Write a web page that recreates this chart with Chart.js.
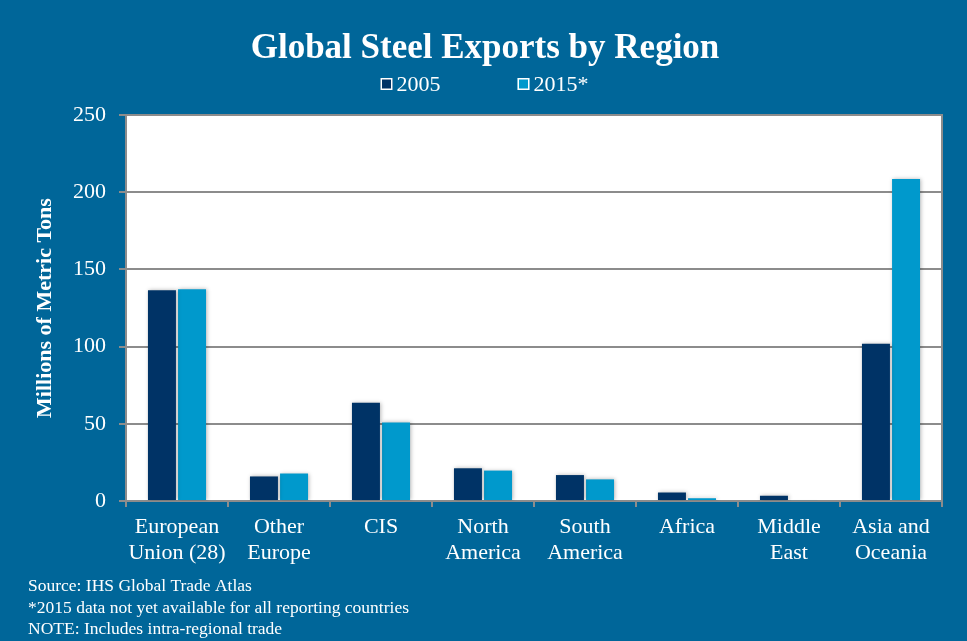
<!DOCTYPE html>
<html>
<head>
<meta charset="utf-8">
<title>Global Steel Exports by Region</title>
<script src="https://cdn.jsdelivr.net/npm/chart.js@4.4.1/dist/chart.umd.min.js"></script>
<style>
  html, body { margin: 0; padding: 0; background: #006699; }
  #wrap { width: 967px; height: 641px; }
  canvas { display: block; }
</style>
</head>
<body>
<div id="wrap"><canvas id="chart" width="967" height="641"></canvas></div>
<script>
// Regions (multi-line labels) and exports in millions of metric tons
const regions = [
  ["European", "Union (28)"],
  ["Other", "Europe"],
  "CIS",
  ["North", "America"],
  ["South", "America"],
  "Africa",
  ["Middle", "East"],
  ["Asia and", "Oceania"]
];
const exports2005 = [136.5, 15.9, 63.7, 21.2, 16.8, 5.5, 3.4, 101.9];
const exports2015 = [137.2, 17.8, 50.9, 19.7, 14.0, 1.8, 0.6, 208.5];
const seriesLabels = ["2005", "2015*"];
const yTicks = [0, 50, 100, 150, 200, 250];
const footnotes = [
  "Source: IHS Global Trade Atlas",
  "*2015 data not yet available for all reporting countries",
  "NOTE: Includes intra-regional trade"
];

const BG = "#006699";
const GRID = "#8c8c8c";
const SERIF = "'Liberation Serif', 'Times New Roman', Times, serif";

Chart.defaults.font.family = SERIF;
Chart.defaults.color = "#ffffff";

// White plot background and right-hand frame line
const plotFrame = {
  id: "plotFrame",
  beforeDraw(chart) {
    const { ctx, chartArea: a } = chart;
    ctx.save();
    ctx.fillStyle = BG;
    ctx.fillRect(0, 0, chart.width, chart.height);
    ctx.fillStyle = "#ffffff";
    ctx.fillRect(a.left, a.top, a.right - a.left, a.bottom - a.top);
    ctx.restore();
  },
  afterDraw(chart) {
    const { ctx, chartArea: a } = chart;
    ctx.save();
    ctx.strokeStyle = GRID;
    ctx.lineWidth = 2;
    ctx.beginPath();
    ctx.moveTo(a.right, a.top - 1);
    ctx.lineTo(a.right, a.bottom);
    ctx.stroke();
    ctx.restore();
  }
};

// Soft shadow around the bars
const barShadow = {
  id: "barShadow",
  beforeDatasetsDraw(chart) {
    const ctx = chart.ctx;
    ctx.save();
    ctx.shadowColor = "rgba(0,0,0,0.28)";
    ctx.shadowBlur = 4;
    ctx.shadowOffsetX = 1;
    ctx.shadowOffsetY = 0;
  },
  afterDatasetsDraw(chart) {
    chart.ctx.restore();
  }
};

// Legend row under the title: outlined square swatches with widely spaced items
const legendRow = {
  id: "legendRow",
  afterDraw(chart) {
    const ctx = chart.ctx;
    const box = 12, gap = 4, itemGap = 77, y = 84;
    ctx.save();
    ctx.font = "22px " + SERIF;
    ctx.textBaseline = "middle";
    const items = chart.data.datasets.map(ds => ({
      text: ds.label, color: ds.backgroundColor, w: ctx.measureText(ds.label).width
    }));
    let total = items.reduce((s, it) => s + box + gap + it.w, 0) + itemGap * (items.length - 1);
    let x = (chart.width - total) / 2 + 1;
    items.forEach(it => {
      ctx.fillStyle = it.color;
      ctx.fillRect(x, y - box / 2, box, box);
      ctx.strokeStyle = "#ffffff";
      ctx.lineWidth = 1.5;
      ctx.strokeRect(x + 0.75, y - box / 2 + 0.75, box - 1.5, box - 1.5);
      ctx.fillStyle = "#ffffff";
      ctx.textAlign = "left";
      ctx.fillText(it.text, x + box + gap, y + 1);
      x += box + gap + it.w + itemGap;
    });
    ctx.restore();
  }
};

// Source notes in the lower-left corner
const notes = {
  id: "notes",
  afterDraw(chart) {
    const ctx = chart.ctx;
    ctx.save();
    ctx.font = "17.5px " + SERIF;
    ctx.fillStyle = "#ffffff";
    ctx.textAlign = "left";
    ctx.textBaseline = "alphabetic";
    footnotes.forEach((line, i) => ctx.fillText(line, 28, 591 + i * 21.5));
    ctx.restore();
  }
};

new Chart(document.getElementById("chart"), {
  type: "bar",
  data: {
    labels: regions,
    datasets: [
      {
        label: seriesLabels[0],
        data: exports2005,
        backgroundColor: "#003366",
        borderColor: "#ffffff",
        borderWidth: 0,
        categoryPercentage: 0.59,
        barPercentage: 0.93
      },
      {
        label: seriesLabels[1],
        data: exports2015,
        backgroundColor: "#0099cc",
        borderColor: "#ffffff",
        borderWidth: 0,
        categoryPercentage: 0.59,
        barPercentage: 0.93
      }
    ]
  },
  options: {
    responsive: false,
    animation: false,
    devicePixelRatio: 1,
    layout: { padding: { left: 14, right: 11, top: 0, bottom: 0 } },
    plugins: {
      legend: { display: false },
      tooltip: { enabled: false },
      title: {
        display: true,
        text: "Global Steel Exports by Region",
        color: "#ffffff",
        font: { size: 35, weight: "bold", family: SERIF },
        padding: { top: 28, bottom: 45 }
      }
    },
    scales: {
      x: {
        grid: {
          display: true,
          drawOnChartArea: false,
          drawTicks: true,
          tickLength: 6,
          color: GRID,
          lineWidth: 2
        },
        border: { display: true, color: GRID, width: 2 },
        ticks: {
          color: "#ffffff",
          font: { size: 22, family: SERIF },
          padding: 7,
          maxRotation: 0,
          autoSkip: false
        },
        afterFit(scale) { scale.height = 140; }
      },
      y: {
        min: yTicks[0],
        max: yTicks[yTicks.length - 1],
        afterBuildTicks(scale) { scale.ticks = yTicks.map(v => ({ value: v })); },
        grid: {
          color: GRID,
          lineWidth: 2,
          drawTicks: true,
          tickLength: 7
        },
        border: { display: true, color: GRID, width: 2 },
        ticks: {
          color: "#ffffff",
          font: { size: 22, family: SERIF },
          padding: 13
        },
        title: {
          display: true,
          text: "Millions of Metric Tons",
          color: "#ffffff",
          font: { size: 22, weight: "bold", family: SERIF },
          padding: { top: 18, bottom: 0 }
        },
        afterFit(scale) { scale.width = 112; }
      },
      // empty right-hand gutter between the plot frame and the canvas edge
      gutter: {
        type: "linear",
        position: "right",
        display: true,
        grid: { display: false, drawTicks: false },
        border: { display: false },
        ticks: { display: false },
        afterFit(scale) { scale.width = 14; }
      }
    }
  },
  plugins: [plotFrame, barShadow, legendRow, notes]
});
</script>
</body>
</html>
